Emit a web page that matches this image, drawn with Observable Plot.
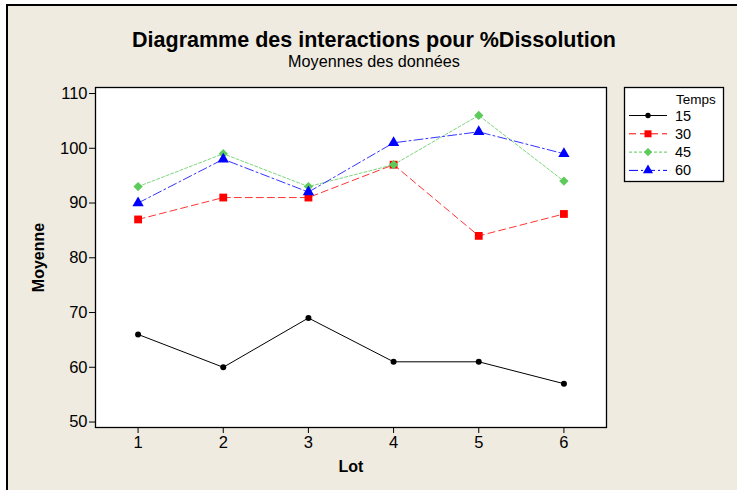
<!DOCTYPE html>
<html><head><meta charset="utf-8">
<script src="https://cdn.jsdelivr.net/npm/d3@7"></script>
<script src="https://cdn.jsdelivr.net/npm/@observablehq/plot@0.6"></script>
<style>
html,body{margin:0;padding:0;background:#fff;}
#wrap{position:relative;width:737px;height:490px;overflow:hidden;background:#fff;font-family:"Liberation Sans",Arial,sans-serif;}
#bg{position:absolute;left:6px;top:4px;width:740px;height:500px;background:#EFEBE1;border-left:2px solid #000;border-top:2px solid #000;}
.t{position:absolute;white-space:nowrap;color:#000;}
#chart{position:absolute;left:0;top:0;}
#legend{position:absolute;left:0;top:0;}
</style>
</head><body>
<div id="wrap">
<div id="bg"></div>
<div class="t" id="title" style="left:0;width:748px;text-align:center;top:28px;font-size:21.5px;font-weight:bold;">Diagramme des interactions pour %Dissolution</div>
<div class="t" id="subtitle" style="left:0;width:748px;text-align:center;top:51.5px;font-size:16.2px;">Moyennes des données</div>
<div id="chart"></div>
<div id="legend"></div>
</div>
<script>
const lots = [1, 2, 3, 4, 5, 6];
const temps = ["15", "30", "45", "60"];
const v15 = [66, 60, 69, 61, 61, 57];
const v30 = [87, 91, 91, 97, 84, 88];
const v45 = [93, 99, 93, 97, 106, 94];
const v60 = [90, 98, 92, 101, 103, 99];
const yTicks = [50, 60, 70, 80, 90, 100, 110];
const legendTitle = "Temps";

const seriesValues = {"15": v15, "30": v30, "45": v45, "60": v60};
const styles = {
  "15": {color: "#000000", dash: null, symbol: "circle", r: 3},
  "30": {color: "#FF0000", dash: "7,4", symbol: "square", r: 4.4},
  "45": {color: "#5CCB5C", dash: "3,2", symbol: "diamond2", r: 4.2},
  "60": {color: "#0000FF", dash: "9,3,2,3", symbol: "triangle", r: 4.2}
};
const data = [];
temps.forEach(t => lots.forEach((l, i) => data.push({lot: l, temps: t, value: seriesValues[t][i]})));

const marks = [
  Plot.frame({fill: "white", stroke: "none"})
];
temps.forEach(t => {
  const s = styles[t];
  const d = data.filter(r => r.temps === t);
  marks.push(Plot.line(d, {x: "lot", y: "value", stroke: s.color, strokeWidth: 1, strokeDasharray: s.dash, strokeOpacity: t === "15" ? 1 : 0.8}));
});
temps.forEach(t => {
  const s = styles[t];
  const d = data.filter(r => r.temps === t);
  marks.push(Plot.dot(d, {x: "lot", y: "value", fill: s.color, stroke: "none", symbol: () => s.symbol, r: s.r}));
});
marks.push(Plot.frame({stroke: "black", strokeWidth: 1.3}));
marks.push(Plot.axisY({ticks: yTicks, tickSize: 6, tickPadding: 2, label: "Moyenne", labelAnchor: "center", labelOffset: 63, labelArrow: "none"}));
marks.push(Plot.axisX({ticks: lots, tickSize: 6, tickPadding: 3, tickFormat: d3.format("d"), label: "Lot", labelAnchor: "center", labelOffset: 44, labelArrow: "none"}));

const chart = Plot.plot({
  width: 737, height: 490,
  marginLeft: 95, marginRight: 131, marginTop: 87, marginBottom: 63,
  style: {background: "transparent", fontFamily: "Liberation Sans, Arial, sans-serif", color: "#000", overflow: "visible"},
  x: {domain: [0.5, 6.5]},
  y: {domain: [49.0, 111.1]},
  marks
});
document.getElementById("chart").appendChild(chart);
d3.select(chart).selectAll("[aria-label='y-axis tick label'] text, [aria-label='x-axis tick label'] text")
  .style("font-size", "16.5px");
d3.select(chart).selectAll("[aria-label='y-axis label'] text, [aria-label='x-axis label'] text")
  .style("font-weight", "bold").style("font-size", "16px");

// Legend
const lg = d3.select("#legend").append("svg").attr("width", 737).attr("height", 490);
lg.append("rect").attr("x", 624.5).attr("y", 87.5).attr("width", 99).attr("height", 94)
  .attr("fill", "white").attr("stroke", "black").attr("stroke-width", 1.3);
lg.append("text").attr("x", 676).attr("y", 104).attr("font-size", 13.5)
  .attr("font-family", "Liberation Sans, Arial, sans-serif").text(legendTitle);
const symMap = {circle: d3.symbolCircle, square: d3.symbolSquare, diamond2: d3.symbolDiamond2, triangle: d3.symbolTriangle};
temps.forEach((t, i) => {
  const s = styles[t];
  const y = 115.5 + i * 18.3;
  lg.append("line").attr("x1", 629).attr("x2", 667).attr("y1", y).attr("y2", y)
    .attr("stroke", s.color).attr("stroke-width", 1).attr("stroke-dasharray", s.dash);
  lg.append("path").attr("transform", `translate(648,${y})`)
    .attr("d", d3.symbol(symMap[s.symbol], Math.PI * s.r * s.r * 0.8)())
    .attr("fill", s.color);
  lg.append("text").attr("x", 675).attr("y", y + 5).attr("font-size", 14.5)
    .attr("font-family", "Liberation Sans, Arial, sans-serif").text(t);
});
</script>
</body></html>
